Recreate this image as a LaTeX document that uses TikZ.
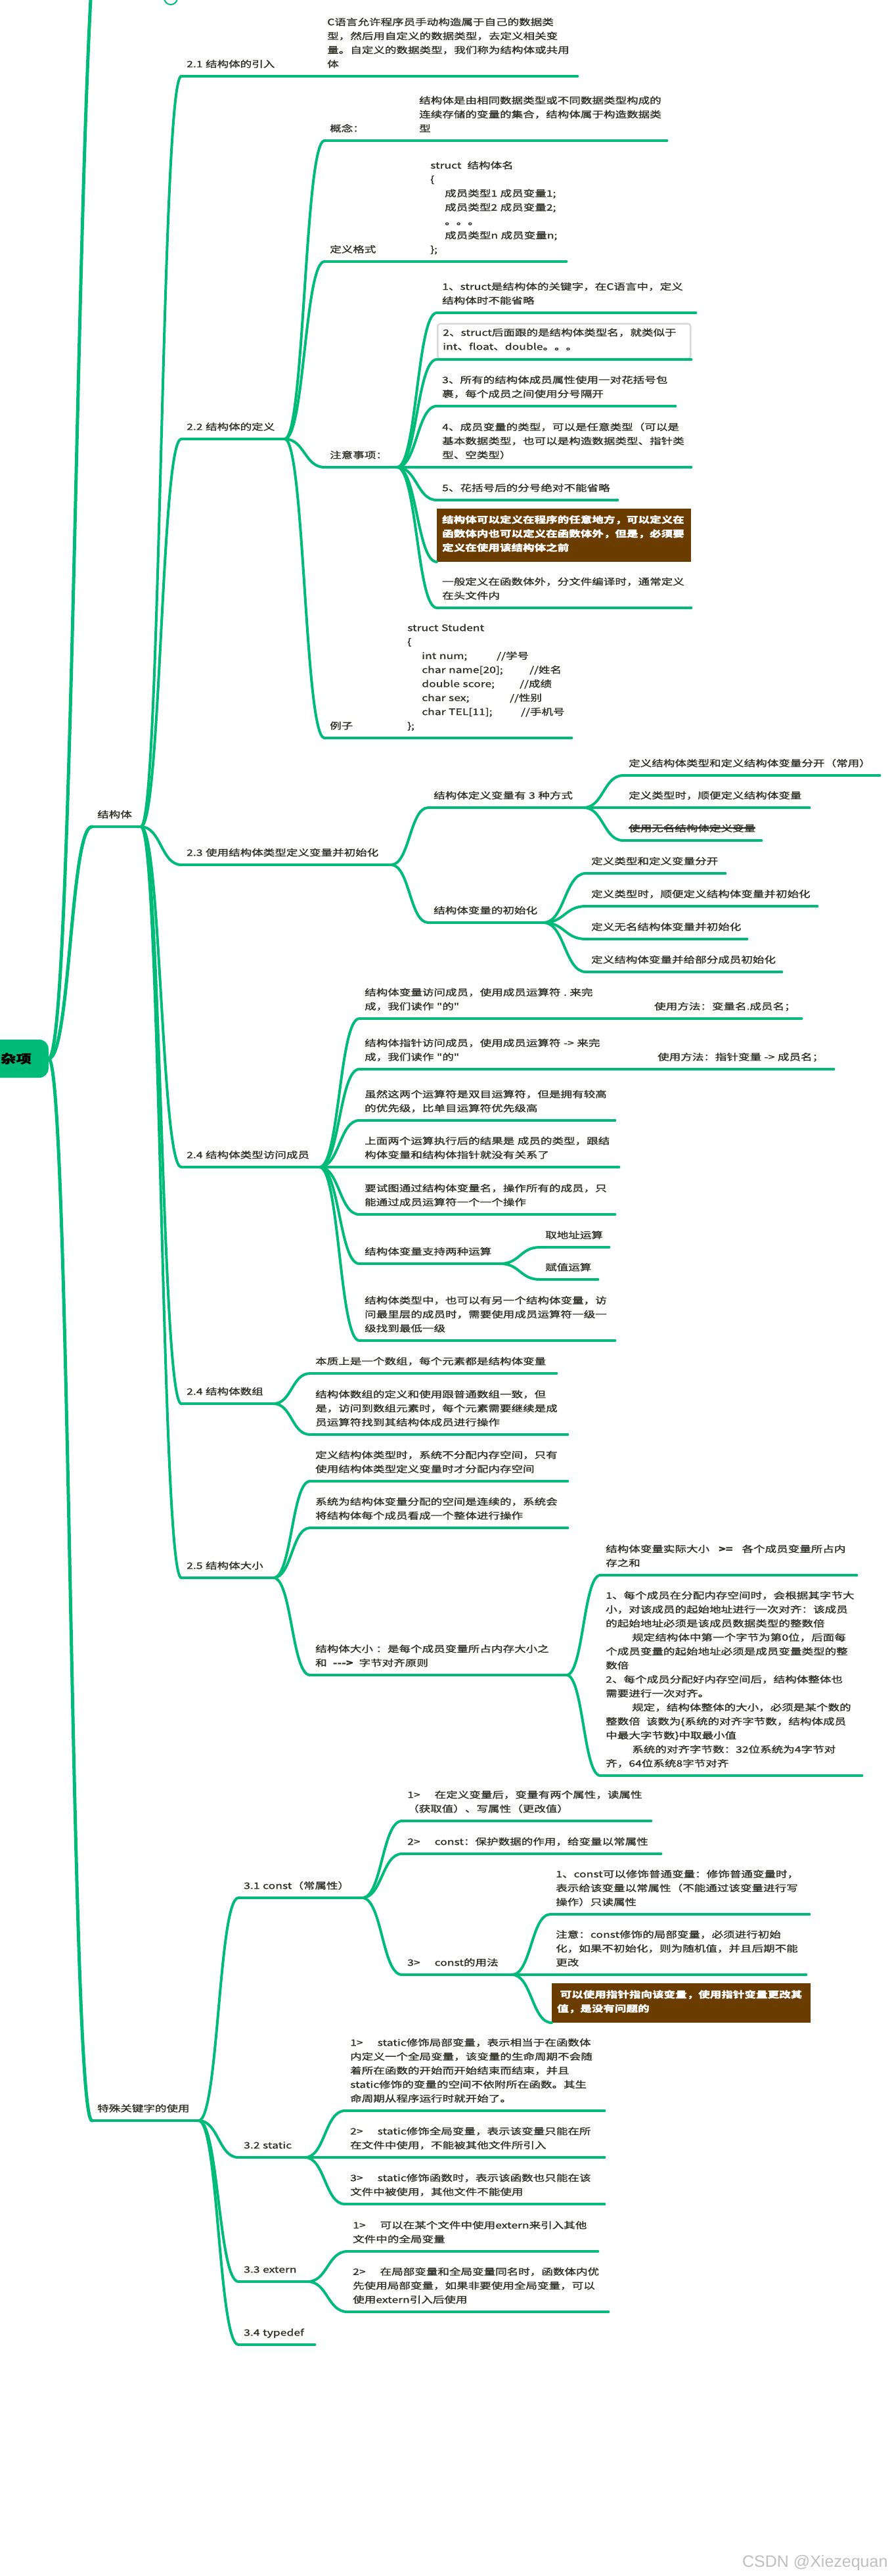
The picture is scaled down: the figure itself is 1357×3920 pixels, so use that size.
\documentclass[tikz,border=0pt]{standalone}
\usepackage{fontspec}
\usepackage{tikz}
\usetikzlibrary{calc}

\newfontfamily\mmfont{Noto Sans CJK SC}[FakeStretch=1.3, FakeBold=1.2]
\newfontfamily\wmfont{Liberation Sans}

\definecolor{mmgreen}{RGB}{0,186,122}
\definecolor{mmtext}{RGB}{45,47,38}
\definecolor{mmbrown}{RGB}{107,60,0}

% curved connector: leaves parent underline, lands on child underline
\newcommand{\branch}[3][link]{%
  \draw[#1] (#2) .. controls ($(#2)!0.5!(#3 |- #2)$) and ($(#3)!0.5!(#2 |- #3)$) .. (#3);}
\newcommand{\kids}[2]{\foreach \kid in {#2} {\branch{#1.south east}{\kid.south west}}}
\newcommand{\sgap}{\hspace{22pt}}
\newcommand{\strk}[1]{\setbox0\hbox{#1}\rlap{\rule[4.5pt]{\wd0}{1.6pt}}\box0}

\begin{document}
\begin{tikzpicture}[
  x=1pt, y=-1pt,
  link/.style={mmgreen, line width=4pt, line cap=round},
  trunk/.style={mmgreen, line width=5pt, line cap=round},
  topic/.style={anchor=south west, inner xsep=8pt, inner ysep=7pt, align=left, text=mmtext,
    font=\mmfont\fontsize{13.5}{21.3}\selectfont, execute at end node={\strut}},
  note/.style={topic, fill=mmbrown, text=white, inner ysep=10pt,
    font=\mmfont\fontsize{13.5}{21.3}\bfseries\selectfont},
  sel/.style={draw=gray!30, line width=2.5pt, rounded corners=4pt},
  root/.style={fill=mmgreen, rounded corners=14pt, anchor=east, minimum height=58pt, inner xsep=26pt,
    text=black, font=\mmfont\fontsize{18}{20}\bfseries\selectfont},
  wm/.style={anchor=base east, text=gray!50, font=\wmfont\fontsize{25}{25}\selectfont}
]

\useasboundingbox (0,0) rectangle (1357,3920);
\fill[white] (0,0) rectangle (1357,3920);
\clip (0,0) rectangle (1357,3920);

% Root
\node[root] (root) at (74,1611) {杂项};
\coordinate (up) at (158,-170);
\draw[mmgreen, line width=2pt, fill=white] (260,-3) circle[radius=10pt];

% --- Branch: 结构体 ---
\node[topic, text width=58pt] (jgt) at (140,1258) {结构体};

% 2.1
\node[topic, text width=132pt] (s21) at (276,116) {2.1~结构体的引入};
\node[topic, text width=373pt] (c21) at (490,116) {C语言允许程序员手动构造属于自己的数据类\\型，然后用自定义的数据类型，去定义相关变\\量。自定义的数据类型，我们称为结构体或共用\\体};

% 2.2
\node[topic, text width=141pt] (s22) at (276,668) {2.2~结构体的定义};
\node[topic, text width=54pt] (g1) at (494,214) {概念：};
\node[topic, text width=369pt] (g1c) at (630,214) {结构体是由相同数据类型或不同数据类型构成的\\连续存储的变量的集合，结构体属于构造数据类\\型};
\node[topic, text width=72pt] (g2) at (494,398) {定义格式};
\node[topic, text width=199pt] (g2c) at (647,398) {struct~~结构体名\\
  \{\\
  \hspace*{22pt}成员类型1~成员变量1;\\
  \hspace*{22pt}成员类型2~成员变量2;\\
  \hspace*{22pt}。。。\\
  \hspace*{22pt}成员类型n~成员变量n;\\
  \};};
\node[topic, text width=94pt] (g3) at (494,711) {注意事项：};
\node[topic, text width=378pt] (n1) at (665,476) {1、struct是结构体的关键字，在C语言中，定义\\结构体时不能省略};
\node[topic, sel, text width=369pt] (n2) at (665,547) {2、struct后面跟的是结构体类型名，就类似于\\int、float、double。。。};
\node[topic, text width=347pt] (n3) at (665,618) {3、所有的结构体成员属性使用一对花括号包\\裹，每个成员之间使用分号隔开};
\node[topic, text width=371pt] (n4) at (665,711) {4、成员变量的类型，可以是任意类型（可以是\\基本数据类型，也可以是构造数据类型、指针类\\型、空类型）};
\node[topic, text width=259pt] (n5) at (665,761) {5、花括号后的分号绝对不能省略};
\node[note, text width=371pt] (nb1) at (665,855) {结构体可以定义在程序的任意地方，可以定义在\\函数体内也可以定义在函数体外，但是，必须要\\定义在使用该结构体之前};
\node[topic, text width=371pt] (n6) at (665,925) {一般定义在函数体外，分文件编译时，通常定义\\在头文件内};
\node[topic, text width=37pt] (g4) at (494,1123) {例子};
\node[topic, text width=242pt] (g4c) at (612,1123) {struct~Student\\
  \{\\
  \hspace*{22pt}\makebox[114pt][l]{int num;}//学号\\
  \hspace*{22pt}\makebox[164pt][l]{char name[20];}//姓名\\
  \hspace*{22pt}\makebox[149pt][l]{double score;}//成绩\\
  \hspace*{22pt}\makebox[134pt][l]{char sex;}//性别\\
  \hspace*{22pt}\makebox[151pt][l]{char TEL[11];}//手机号\\
  \};};

% 2.3
\node[topic, text width=303pt] (s23) at (276,1316) {2.3~使用结构体类型定义变量并初始化};
\node[topic, text width=220pt] (s23a) at (652,1229) {结构体定义变量有~3~种方式};
\node[topic, text width=374pt] (s23a1) at (949,1180) {定义结构体类型和定义结构体变量分开（常用）};
\node[topic, text width=267pt] (s23a2) at (949,1229) {定义类型时，顺便定义结构体变量};
\node[topic, text width=194pt] (s23a3) at (949,1279) {\strk{使用无名结构体定义变量}};
\node[topic, text width=159pt] (s23b) at (652,1404) {结构体变量的初始化};
\node[topic, text width=196pt] (s23b1) at (892,1329) {定义类型和定义变量分开};
\node[topic, text width=336pt] (s23b2) at (892,1379) {定义类型时，顺便定义结构体变量并初始化};
\node[topic, text width=229pt] (s23b3) at (892,1429) {定义无名结构体变量并初始化};
\node[topic, text width=282pt] (s23b4) at (892,1479) {定义结构体变量并给部分成员初始化};

% 2.4 访问成员
\node[topic, text width=194pt] (s24) at (276,1776) {2.4~结构体类型访问成员};
\node[topic, text width=360pt] (a1) at (547,1550) {结构体变量访问成员，使用成员运算符~.~来完\\成，我们读作~"的"};
\node[topic, text width=216pt] (a1u) at (988,1550) {使用方法：变量名.成员名；};
\node[topic, text width=364pt] (a2) at (547,1627) {结构体指针访问成员，使用成员运算符~->~来完\\成，我们读作~"的"};
\node[topic, text width=260pt] (a2u) at (993,1627) {使用方法：指针变量~->~成员名；};
\node[topic, text width=373pt] (a3) at (547,1705) {虽然这两个运算符是双目运算符，但是拥有较高\\的优先级，比单目运算符优先级高};
\node[topic, text width=379pt] (a4) at (547,1776) {上面两个运算执行后的结果是~成员的类型，跟结\\构体变量和结构体指针就没有关系了};
\node[topic, text width=373pt] (a5) at (547,1848) {要试图通过结构体变量名，操作所有的成员，只\\能通过成员运算符一个一个操作};
\node[topic, text width=198pt] (a6) at (547,1923) {结构体变量支持两种运算};
\node[topic, text width=89pt] (a6a) at (822,1898) {取地址运算};
\node[topic, text width=72pt] (a6b) at (822,1947) {赋值运算};
\node[topic, text width=373pt] (a7) at (547,2040) {结构体类型中，也可以有另一个结构体变量，访\\问最里层的成员时，需要使用成员运算符一级一\\级找到最低一级};

% 2.4 结构体数组
\node[topic, text width=124pt] (s24b) at (276,2136) {2.4~结构体数组};
\node[topic, text width=359pt] (b1) at (472,2090) {本质上是一个数组，每个元素都是结构体变量};
\node[topic, text width=376pt] (b2) at (472,2183) {结构体数组的定义和使用跟普通数组一致，但\\是，访问到数组元素时，每个元素需要继续是成\\员运算符找到其结构体成员进行操作};

% 2.5
\node[topic, text width=124pt] (s25) at (276,2401) {2.5~结构体大小};
\node[topic, text width=376pt] (c1) at (472,2254) {定义结构体类型时，系统不分配内存空间，只有\\使用结构体类型定义变量时才分配内存空间};
\node[topic, text width=376pt] (c2) at (472,2325) {系统为结构体变量分配的空间是连续的，系统会\\将结构体每个成员看成一个整体进行操作};
\node[topic, text width=374pt] (c3) at (472,2549) {结构体大小~：是每个成员变量所占内存大小之\\和~~\textbf{--->}~~字节对齐原则};
\node[topic, text width=374pt] (c3a) at (914,2397) {结构体变量实际大小\hspace{14pt}\textbf{>=}\hspace{14pt}各个成员变量所占内\\存之和};
\node[topic, text width=382pt] (c3b) at (914,2702) {1、每个成员在分配内存空间时，会根据其字节大\\
  小，对该成员的起始地址进行一次对齐：该成员\\
  的起始地址必须是该成员数据类型的整数倍\\
  \hspace*{40pt}规定结构体中第一个字节为第0位，后面每\\
  个成员变量的起始地址必须是成员变量类型的整\\
  数倍\\
  2、每个成员分配好内存空间后，结构体整体也\\
  需要进行一次对齐。\\
  \hspace*{40pt}规定，结构体整体的大小，必须是某个数的\\
  整数倍~~该数为\{系统的对齐字节数，结构体成员\\
  中最大字节数\}中取最小值\\
  \hspace*{40pt}系统的对齐字节数：32位系统为4字节对\\
  齐，64位系统8字节对齐};

% --- Branch: 特殊关键字的使用 ---
\node[topic, text width=146pt] (tsgj) at (140,3227) {特殊关键字的使用};

% 3.1 const
\node[topic, text width=172pt] (k31) at (363,2888) {3.1~const（常属性）};
\node[topic, text width=363pt] (k31a) at (612,2771) {1>\sgap 在定义变量后，变量有两个属性，读属性\\（获取值）、写属性（更改值）};
\node[topic, text width=378pt] (k31b) at (612,2821) {2>\sgap const：保护数据的作用，给变量以常属性};
\node[topic, text width=151pt] (k31c) at (612,3005) {3>\sgap const的用法};
\node[topic, text width=378pt] (k31c1) at (838,2913) {1、const可以修饰普通变量：修饰普通变量时，\\表示给该变量以常属性（不能通过该变量进行写\\操作）只读属性};
\node[topic, text width=373pt] (k31c2) at (838,3005) {注意：const修饰的局部变量，必须进行初始\\化，如果不初始化，则为随机值，并且后期不能\\更改};
\node[note, text width=378pt] (nb2) at (840,3078) {~可以使用指针指向该变量，使用指针变量更改其\\值，是没有问题的};

% 3.2 static
\node[topic, text width=85pt] (k32) at (363,3283) {3.2~static};
\node[topic, text width=379pt] (k32a) at (525,3212) {1>\sgap static修饰局部变量，表示相当于在函数体\\内定义一个全局变量，该变量的生命周期不会随\\着所在函数的开始而开始结束而结束，并且\\static修饰的变量的空间不依附所在函数。其生\\命周期从程序运行时就开始了。};
\node[topic, text width=379pt] (k32b) at (525,3283) {2>\sgap static修饰全局变量，表示该变量只能在所\\在文件中使用，不能被其他文件所引入};
\node[topic, text width=379pt] (k32c) at (525,3354) {3>\sgap static修饰函数时，表示该函数也只能在该\\文件中被使用，其他文件不能使用};

% 3.3 extern
\node[topic, text width=89pt] (k33) at (363,3472) {3.3~extern};
\node[topic, text width=365pt] (k33a) at (529,3426) {1>\sgap 可以在某个文件中使用extern来引入其他\\文件中的全局变量};
\node[topic, text width=381pt] (k33b) at (529,3518) {2>\sgap 在局部变量和全局变量同名时，函数体内优\\先使用局部变量，如果非要使用全局变量，可以\\使用extern引入后使用};

% 3.4 typedef
\node[topic, text width=100pt] (k34) at (363,3568) {3.4~typedef};

% Underlines
\foreach \n in {jgt,tsgj,s21,c21,s22,g1,g1c,g2,g2c,g3,n1,n2,n3,n4,n5,n6,g4,g4c,
  s23,s23a,s23a1,s23a2,s23a3,s23b,s23b1,s23b2,s23b3,s23b4,
  s24,a1,a1u,a2,a2u,a3,a4,a5,a6,a6a,a6b,a7,s24b,b1,b2,s25,c1,c2,c3,c3a,c3b,
  k31,k31a,k31b,k31c,k31c1,k31c2,k32,k32a,k32b,k32c,k33,k33a,k33b,k34}
  \draw[link] (\n.south west) -- (\n.south east);

% Connectors
\branch[trunk]{root.east}{up}
\branch[trunk]{root.east}{jgt.south west}
\branch[trunk]{root.east}{tsgj.south west}
\kids{jgt}{s21,s22,s23,s24,s24b,s25}
\kids{s21}{c21}
\kids{s22}{g1,g2,g3,g4}
\kids{g1}{g1c}
\kids{g2}{g2c}
\kids{g3}{n1,n2,n3,n4,n5,nb1,n6}
\kids{g4}{g4c}
\kids{s23}{s23a,s23b}
\kids{s23a}{s23a1,s23a2,s23a3}
\kids{s23b}{s23b1,s23b2,s23b3,s23b4}
\kids{s24}{a1,a2,a3,a4,a5,a6,a7}
\kids{a1}{a1u}
\kids{a2}{a2u}
\kids{a6}{a6a,a6b}
\kids{s24b}{b1,b2}
\kids{s25}{c1,c2,c3}
\kids{c3}{c3a,c3b}
\kids{tsgj}{k31,k32,k33,k34}
\kids{k31}{k31a,k31b,k31c}
\kids{k31c}{k31c1,k31c2,nb2}
\kids{k32}{k32a,k32b,k32c}
\kids{k33}{k33a,k33b}

% Watermark
\node[wm] (wm) at (1355,3906) {CSDN @Xiezequan};

\end{tikzpicture}
\end{document}
